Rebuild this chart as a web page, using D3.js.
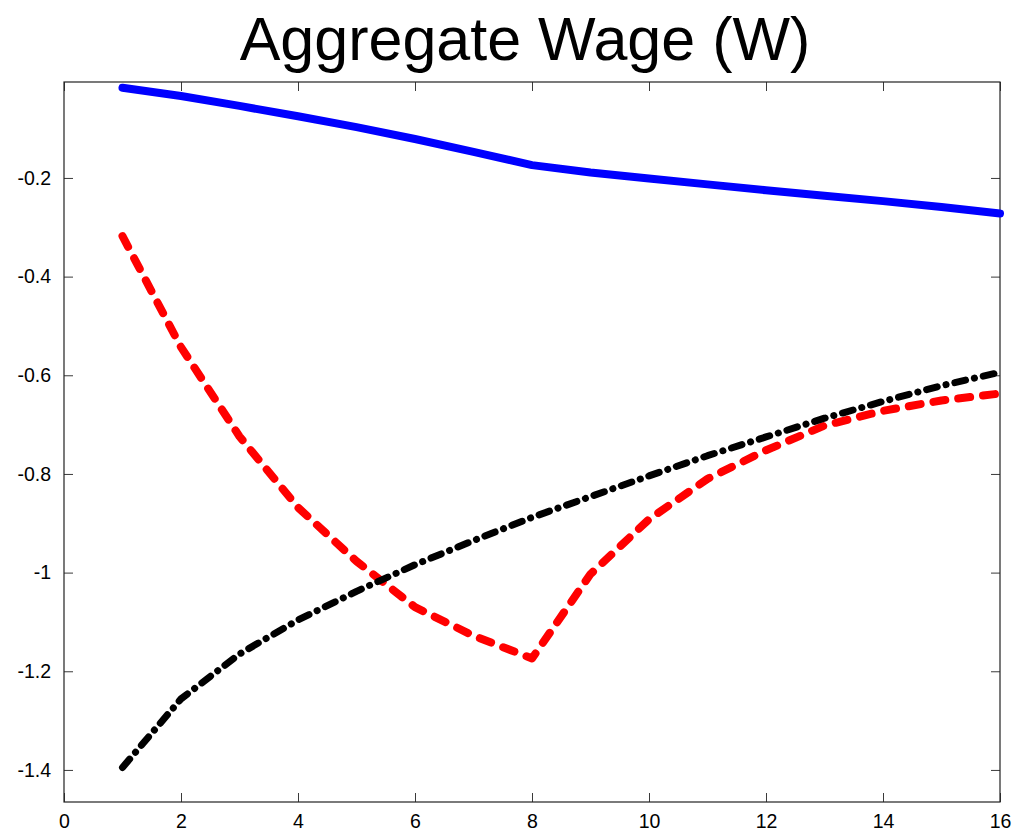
<!DOCTYPE html>
<html>
<head>
<meta charset="utf-8">
<script src="https://cdn.jsdelivr.net/npm/d3@7"></script>
<style>
  html, body { margin: 0; padding: 0; background: #fff; }
  svg { display: block; }
  .tick text { font-family: "Liberation Sans", Arial, sans-serif; font-size: 19.5px; fill: #000; }
</style>
</head>
<body>
<svg id="chart" width="1014" height="834"></svg>
<script>
// Horizon (quarters)
const horizon = [1, 2, 3, 4, 5, 6, 7, 8, 9, 10, 11, 12, 13, 14, 15, 16];

// Impulse responses of the aggregate wage
const wageBlue  = [-0.017, -0.034, -0.054, -0.075, -0.097, -0.121, -0.147, -0.174,
                   -0.189, -0.201, -0.213, -0.225, -0.236, -0.247, -0.259, -0.272];
const wageRed   = [-0.318, -0.543, -0.724, -0.868, -0.977, -1.070, -1.128, -1.174,
                   -1.003, -0.892, -0.810, -0.752, -0.702, -0.672, -0.651, -0.637];
const wageBlack = [-1.395, -1.256, -1.165, -1.096, -1.038, -0.984, -0.935, -0.888,
                   -0.846, -0.804, -0.763, -0.725, -0.687, -0.653, -0.621, -0.594];

const xTicks = [0, 2, 4, 6, 8, 10, 12, 14, 16];
const yTicks = [-0.2, -0.4, -0.6, -0.8, -1, -1.2, -1.4];
const xDomain = [0, 16];
const yDomain = [-1.465, -0.0055];

const svg = d3.select("#chart");
const margin = { left: 64, right: 1000, top: 82, bottom: 802 };

const x = d3.scaleLinear().domain(xDomain).range([margin.left, margin.right]);
const y = d3.scaleLinear().domain(yDomain).range([margin.bottom, margin.top]);

// Title
svg.append("text")
  .attr("x", 525)
  .attr("y", 60)
  .attr("text-anchor", "middle")
  .style("font-family", "'Liberation Sans', Arial, sans-serif")
  .style("font-size", "61px")
  .text("Aggregate Wage (W)");

const fmt = d => String(d);

// Axes with inward ticks on all four sides
const gBottom = svg.append("g").attr("transform", `translate(0,${margin.bottom})`)
  .call(d3.axisBottom(x).tickValues(xTicks).tickFormat(fmt).tickSize(-9).tickPadding(12));
const gTop = svg.append("g").attr("transform", `translate(0,${margin.top})`)
  .call(d3.axisTop(x).tickValues(xTicks).tickFormat("").tickSize(-9));
const gLeft = svg.append("g").attr("transform", `translate(${margin.left},0)`)
  .call(d3.axisLeft(y).tickValues(yTicks).tickFormat(fmt).tickSize(-9).tickPadding(13));
const gRight = svg.append("g").attr("transform", `translate(${margin.right},0)`)
  .call(d3.axisRight(y).tickValues(yTicks).tickFormat("").tickSize(-9));

[gBottom, gTop, gLeft, gRight].forEach(g => {
  g.select(".domain").remove();
  g.selectAll(".tick line").attr("stroke", "#3a3a3a").attr("stroke-width", 1);
});
gBottom.selectAll(".tick text").attr("dy", "0.71em");

// Axes box
svg.append("rect")
  .attr("x", margin.left).attr("y", margin.top)
  .attr("width", margin.right - margin.left).attr("height", margin.bottom - margin.top)
  .attr("fill", "none").attr("stroke", "#222").attr("stroke-width", 1.2);

const line = d3.line().x((d, i) => x(horizon[i])).y(d => y(d));

const plot = svg.append("g");

plot.append("path")
  .datum(wageBlue)
  .attr("d", line)
  .attr("fill", "none")
  .attr("stroke", "#0000ff")
  .attr("stroke-width", 8)
  .attr("stroke-linecap", "round")
  .attr("stroke-linejoin", "round");

plot.append("path")
  .datum(wageRed)
  .attr("d", line)
  .attr("fill", "none")
  .attr("stroke", "#ff0000")
  .attr("stroke-width", 8)
  .attr("stroke-dasharray", "12,13")
  .attr("stroke-linecap", "round")
  .attr("stroke-linejoin", "round");

plot.append("path")
  .datum(wageBlack)
  .attr("d", line)
  .attr("fill", "none")
  .attr("stroke", "#000000")
  .attr("stroke-width", 7)
  .attr("stroke-dasharray", "11,9,0.1,9")
  .attr("stroke-linecap", "round")
  .attr("stroke-linejoin", "round");
</script>
</body>
</html>
